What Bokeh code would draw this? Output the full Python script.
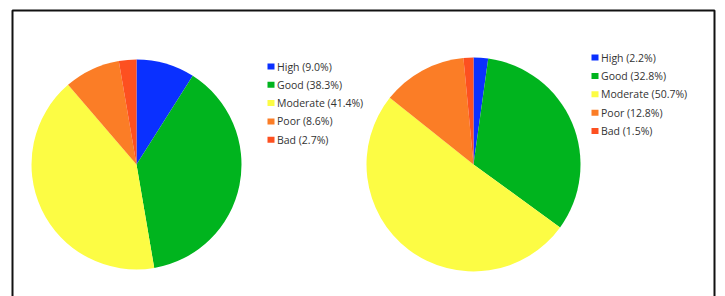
import numpy as np
from bokeh.plotting import figure
from bokeh.models import Range1d, ColumnDataSource
from bokeh.core.properties import value
from bokeh.embed import file_html
from bokeh.resources import INLINE

categories = ["High", "Good", "Moderate", "Poor", "Bad"]
colors = ["#0a30ff", "#00b41e", "#fcfc44", "#fb7d26", "#fd5020"]
left_values = [9.0, 38.3, 41.4, 8.6, 2.7]
right_values = [2.2, 32.8, 50.7, 12.8, 1.5]

W, H = 725, 296
p = figure(width=W, height=H, output_backend="svg", toolbar_location=None,
           x_range=Range1d(0, W), y_range=Range1d(0, H),
           min_border=0, outline_line_color=None)
p.axis.visible = False
p.grid.visible = False
p.background_fill_color = "white"
p.border_fill_color = "white"

def Y(y_img):
    return H - y_img

# frame
p.quad(left=[12], right=[714], top=[Y(10)], bottom=[Y(320)], fill_color=None,
       line_color="#111111", line_width=2)

def pie(vals, cx, cy, r, lx, ly0, dy):
    v = np.array(vals, dtype=float)
    frac = v / v.sum()
    cum = np.concatenate([[0], np.cumsum(frac)])
    a_start = np.pi / 2 - 2 * np.pi * cum[:-1]
    a_end = np.pi / 2 - 2 * np.pi * cum[1:]
    src = ColumnDataSource(dict(s=a_end, e=a_start, c=colors))
    p.wedge(x=cx, y=Y(cy), radius=r, start_angle="s", end_angle="e",
            fill_color="c", line_color=None, source=src)
    ys = [Y(ly0 + i * dy) for i in range(len(vals))]
    labels = [f"{c} ({x:.1f}%)" for c, x in zip(categories, vals)]
    p.rect(x=[lx + 3.5] * len(vals), y=ys, width=7, height=6, fill_color=colors,
           line_color=None)
    p.text(x=[lx + 9.5] * len(vals), y=ys, text=labels, text_font=value("Open Sans"),
           text_font_size="10.5px", text_baseline="middle", text_color="#333333")

pie(left_values, 136, 164, 105, 267, 66, 18.3)
pie(right_values, 473, 164, 107, 591, 57, 18.4)

open("out.html", "w").write(file_html(p, INLINE))
